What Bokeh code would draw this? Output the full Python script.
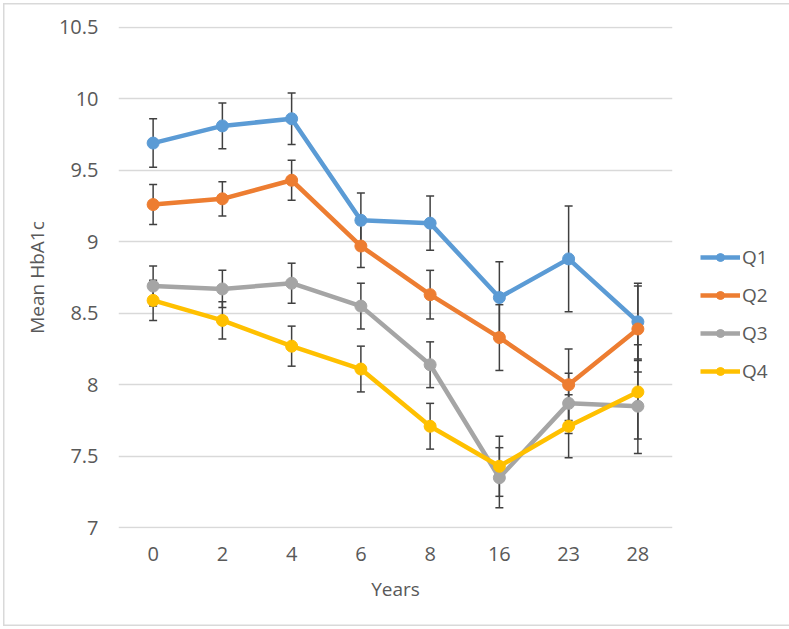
from bokeh.plotting import figure
from bokeh.models import (ColumnDataSource, Whisker, TeeHead, Legend, LegendItem,
                          FixedTicker, FactorRange, Range1d)
from bokeh.embed import file_html
from bokeh.resources import INLINE

years = ["0", "2", "4", "6", "8", "16", "23", "28"]
series_names = ["Q1", "Q2", "Q3", "Q4"]
q1 = [9.69, 9.81, 9.86, 9.15, 9.13, 8.61, 8.88, 8.44]
q2 = [9.26, 9.30, 9.43, 8.97, 8.63, 8.33, 8.00, 8.39]
q3 = [8.69, 8.67, 8.71, 8.55, 8.14, 7.35, 7.87, 7.85]
q4 = [8.59, 8.45, 8.27, 8.11, 7.71, 7.43, 7.71, 7.95]
q1_err = [0.17, 0.16, 0.18, 0.19, 0.19, 0.25, 0.37, 0.27]
q2_err = [0.14, 0.12, 0.14, 0.15, 0.17, 0.23, 0.25, 0.30]
q3_err = [0.14, 0.13, 0.14, 0.16, 0.16, 0.21, 0.21, 0.33]
q4_err = [0.14, 0.13, 0.14, 0.16, 0.16, 0.21, 0.22, 0.33]
y_ticks = [7, 7.5, 8, 8.5, 9, 9.5, 10, 10.5]
y_tick_labels = ["7", "7.5", "8", "8.5", "9", "9.5", "10", "10.5"]
colors = ["#5B9BD5", "#ED7D31", "#A5A5A5", "#FFC000"]

FONT = "Open Sans"
TXT = "#595959"

p = figure(frame_width=554, frame_height=502, output_backend="svg", toolbar_location=None,
           x_range=FactorRange(*years, range_padding=0),
           y_range=Range1d(6.995, 10.505),
           min_border_left=118, min_border_right=117, min_border_top=26, min_border_bottom=101)
p.outline_line_color = None
p.background_fill_color = "white"
p.border_fill_alpha = 0

for ax in (p.xaxis[0], p.yaxis[0]):
    ax.axis_line_color = None
    ax.major_tick_line_color = None
    ax.minor_tick_line_color = None
    ax.major_label_text_font = FONT
    ax.major_label_text_font_size = "20px"
    ax.major_label_text_color = TXT
    ax.axis_label_text_font = FONT
    ax.axis_label_text_font_size = "19px"
    ax.axis_label_text_font_style = "normal"
    ax.axis_label_text_color = TXT

p.xaxis.axis_label = "Years"
p.yaxis.axis_label = "Mean HbA1c"
p.yaxis.ticker = FixedTicker(ticks=y_ticks)
p.yaxis.major_label_overrides = {t: l for t, l in zip(y_ticks, y_tick_labels)}
p.yaxis.major_label_standoff = 14
p.yaxis.axis_label_standoff = 6
p.xaxis.major_label_standoff = 12
p.xaxis.axis_label_standoff = 12

p.xgrid.grid_line_color = None
p.ygrid.grid_line_color = "#D9D9D9"
p.ygrid.grid_line_width = 1.5

items = []
all_vals = [q1, q2, q3, q4]
all_errs = [q1_err, q2_err, q3_err, q4_err]
for name, vals, errs, col in zip(series_names, all_vals, all_errs, colors):
    src = ColumnDataSource(dict(x=years, y=vals,
                                lo=[v - e for v, e in zip(vals, errs)],
                                hi=[v + e for v, e in zip(vals, errs)]))
    ln = p.line("x", "y", source=src, line_color=col, line_width=4.5)
    sc = p.scatter("x", "y", source=src, size=12, fill_color=col, line_color=col)
    w = Whisker(base="x", lower="lo", upper="hi", source=src,
                line_color="#404040", line_width=1.5,
                upper_head=TeeHead(size=8, line_color="#404040", line_width=1.5),
                lower_head=TeeHead(size=8, line_color="#404040", line_width=1.5))
    p.add_layout(w)
    items.append(LegendItem(label=name, renderers=[ln, sc]))

legend = Legend(items=items, location=(28, 144), orientation="vertical",
                glyph_width=40, glyph_height=20, label_height=20,
                spacing=12, padding=0, margin=0, label_standoff=2,
                label_text_font=FONT, label_text_font_size="19px",
                label_text_color=TXT, border_line_color=None,
                background_fill_alpha=0)
p.add_layout(legend, "right")

p.styles = {"background": "white",
            "box-shadow": "inset 0 0 0 3px white, inset 0 0 0 4.5px #D9D9D9"}

open("out.html", "w").write(file_html(p, INLINE))
